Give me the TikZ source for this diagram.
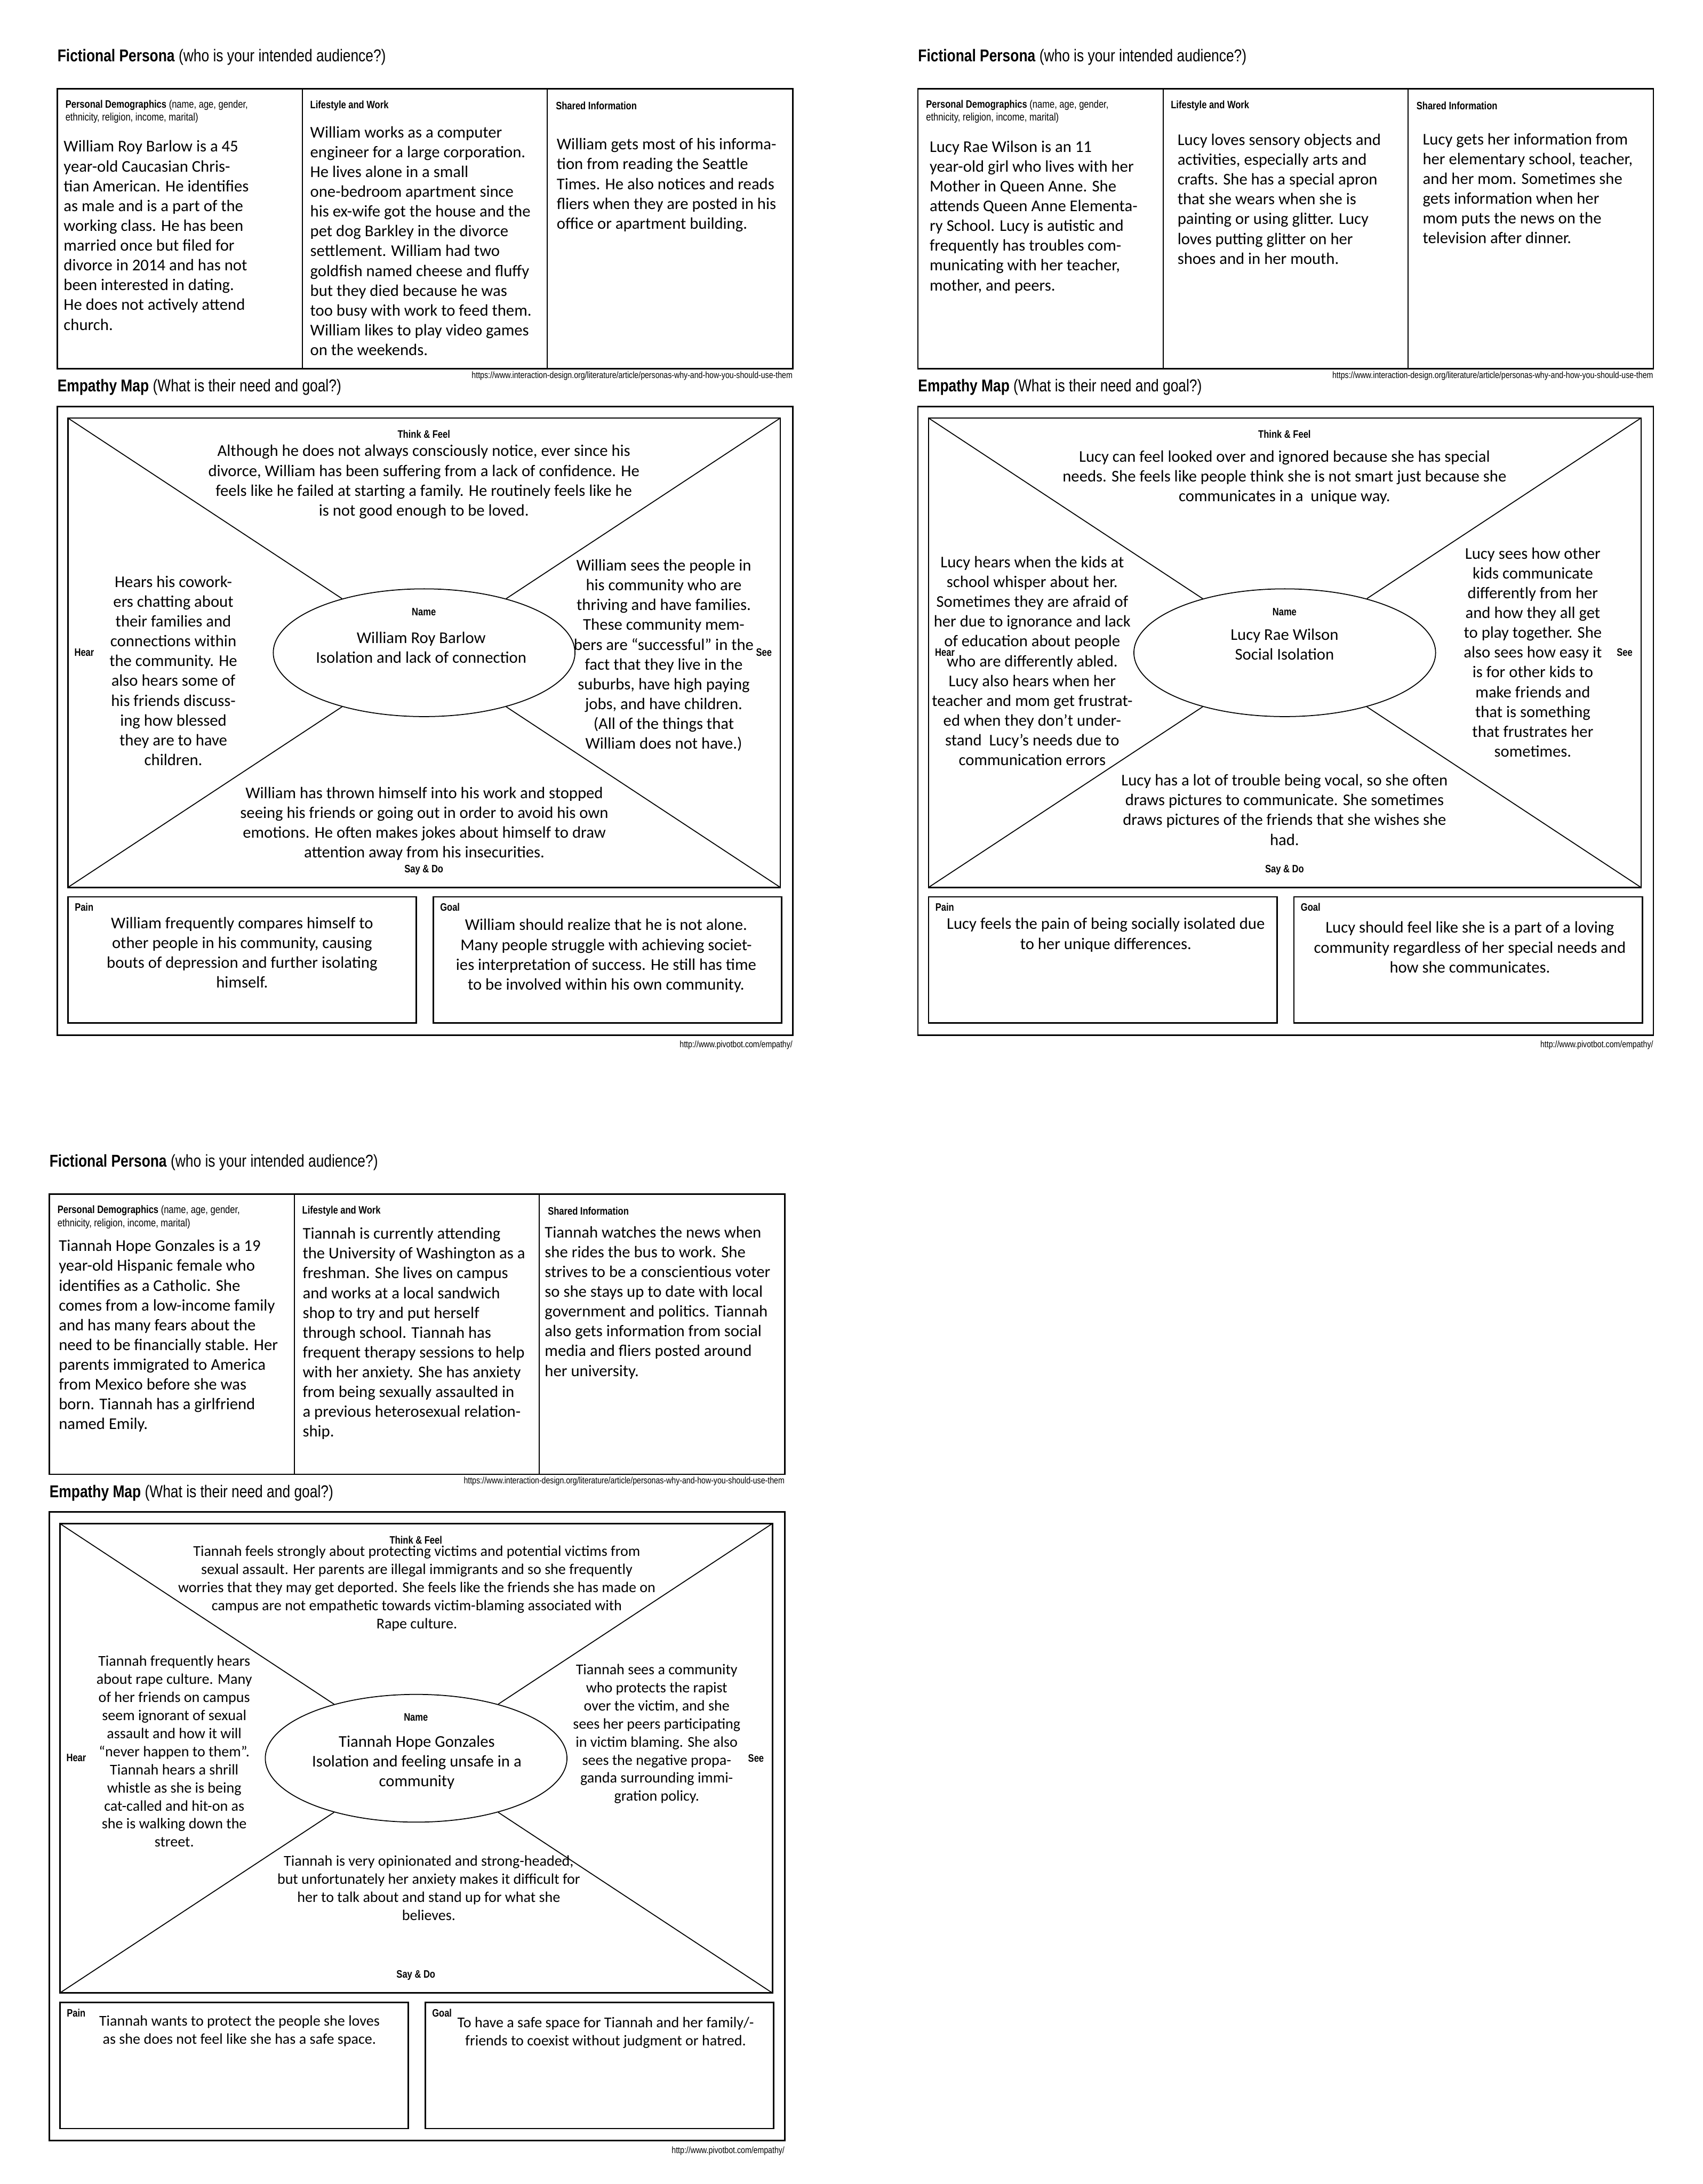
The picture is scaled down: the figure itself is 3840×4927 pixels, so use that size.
\documentclass[tikz,border=0pt]{standalone}
\usepackage{fontspec}
\setmainfont{Carlito}
\newfontfamily\condfont[FakeStretch=0.82]{Liberation Sans}
\usetikzlibrary{shapes.geometric}

\begin{document}
\begin{tikzpicture}[x=0.01cm,y=-0.01cm,
	txt/.style={inner sep=0pt,align=center,font=\fontsize{10.5}{12.7}\selectfont},
	txtsm/.style={inner sep=0pt,align=center,font=\fontsize{9.6}{11.6}\selectfont},
	col/.style={inner sep=0pt,align=left,anchor=west,font=\fontsize{10.5}{12.7}\selectfont},
	hdr/.style={inner sep=0pt,font=\condfont\fontsize{6.9}{8.3}\selectfont},
	ttl/.style={inner sep=0pt,anchor=west,font=\condfont\fontsize{11}{13}\selectfont},
	src/.style={inner sep=0pt,anchor=east,font=\condfont\fontsize{5.9}{7}\selectfont},
	boxline/.style={line width=0.9pt},
	divline/.style={line width=0.7pt},
	diag/.style={line width=0.6pt}]
	\fill[white] (0,0) rectangle (3840,4927);
	\useasboundingbox (0,0) rectangle (3840,4927);

	% first persona
	\node[ttl] (title) at (129,129) {\textbf{Fictional Persona} (who is your intended audience?)};
	\draw[boxline] (129,200) rectangle (1788,832);
	\draw[divline] (682,200) -- (682,832);
	\draw[divline] (1234,200) -- (1234,832);
	\node[hdr,anchor=west,align=left] (hdemo) at (147,252) {\textbf{Personal Demographics} (name, age, gender,\\ethnicity, religion, income, marital)};
	\node[hdr,anchor=west] (hlife) at (699,238) {\textbf{Lifestyle and Work}};
	\node[hdr,anchor=west] (hshare) at (1253,238) {\textbf{Shared Information}};
	\node[src] (srcA) at (1788,848) {https://www.interaction-design.org/literature/article/personas-why-and-how-you-should-use-them};
	\node[ttl] (maptitle) at (129,874) {\textbf{Empathy Map} (What is their need and goal?)};
	\draw[boxline] (129,917) rectangle (1788,2335);
	\draw[boxline] (153,943) rectangle (1760,2002);
	\coordinate (nw) at (153,943);
	\coordinate (ne) at (1760,943);
	\coordinate (sw) at (153,2002);
	\coordinate (se) at (1760,2002);
	\node[ellipse,draw,diag,minimum width=6.8cm,minimum height=2.88cm,inner sep=0pt] (nm) at (956.5,1472.5) {};
	\draw[diag] (nw) -- (nm);
	\draw[diag] (ne) -- (nm);
	\draw[diag] (sw) -- (nm);
	\draw[diag] (se) -- (nm);
	\node[hdr] (think) at (956,980) {\textbf{Think \& Feel}};
	\node[hdr] (hear) at (190,1472) {\textbf{Hear}};
	\node[hdr] (see) at (1723,1472) {\textbf{See}};
	\node[hdr] (say) at (956,1962) {\textbf{Say \& Do}};
	\node[hdr] (name) at (956,1380) {\textbf{Name}};
	\draw[boxline] (153,2023) rectangle (939,2308);
	\draw[boxline] (977,2023) rectangle (1763,2308);
	\node[hdr,anchor=west] (pain) at (168,2047) {\textbf{Pain}};
	\node[hdr,anchor=west] (goal) at (992,2047) {\textbf{Goal}};
	\node[src] (srcB) at (1788,2358) {http://www.pivotbot.com/empathy/};

	\node[col] (wdemo) at (143,531) {William Roy Barlow is a 45\\year-old Caucasian Chris-\\tian American. He identifies\\as male and is a part of the\\working class. He has been\\married once but filed for\\divorce in 2014 and has not\\been interested in dating.\\He does not actively attend\\church.};
	\node[col] (wlife) at (699,543.5) {William works as a computer\\engineer for a large corporation.\\He lives alone in a small\\one-bedroom apartment since\\his ex-wife got the house and the\\pet dog Barkley in the divorce\\settlement. William had two\\goldfish named cheese and fluffy\\but they died because he was\\too busy with work to feed them.\\William likes to play video games\\on the weekends.};
	\node[col] (wshare) at (1255,417.5) {William gets most of his informa-\\tion from reading the Seattle\\Times. He also notices and reads\\fliers when they are posted in his\\office or apartment building.};
	\node[txt] (wthink) at (956,1087) {Although he does not always consciously notice, ever since his\\divorce, William has been suffering from a lack of confidence. He\\feels like he failed at starting a family. He routinely feels like he\\is not good enough to be loved.};
	\node[txt] (whear) at (391,1513) {Hears his cowork-\\ers chatting about\\their families and\\connections within\\the community. He\\also hears some of\\his friends discuss-\\ing how blessed\\they are to have\\children.};
	\node[txt] (wsee) at (1497,1478.5) {William sees the people in\\his community who are\\thriving and have families.\\These community mem-\\bers are “successful” in the\\fact that they live in the\\suburbs, have high paying\\jobs, and have children.\\(All of the things that\\William does not have.)};
	\node[txt] (wsay) at (957,1858.5) {William has thrown himself into his work and stopped\\seeing his friends or going out in order to avoid his own\\emotions. He often makes jokes about himself to draw\\attention away from his insecurities.};
	\node[txt] (wname) at (950,1460.5) {William Roy Barlow\\Isolation and lack of connection};
	\node[txt] (wpain) at (546,2149) {William frequently compares himself to\\other people in his community, causing\\bouts of depression and further isolating\\himself.};
	\node[txt] (wgoal) at (1367,2156) {William should realize that he is not alone.\\Many people struggle with achieving societ-\\ies interpretation of success. He still has time\\to be involved within his own community.};

	% second persona
	\begin{scope}[shift={(1941,0)}]
		\node[ttl] (title) at (129,129) {\textbf{Fictional Persona} (who is your intended audience?)};
		\draw[boxline] (129,200) rectangle (1788,832);
		\draw[divline] (682,200) -- (682,832);
		\draw[divline] (1234,200) -- (1234,832);
		\node[hdr,anchor=west,align=left] (hdemo) at (147,252) {\textbf{Personal Demographics} (name, age, gender,\\ethnicity, religion, income, marital)};
		\node[hdr,anchor=west] (hlife) at (699,238) {\textbf{Lifestyle and Work}};
		\node[hdr,anchor=west] (hshare) at (1253,238) {\textbf{Shared Information}};
		\node[src] (srcA) at (1788,848) {https://www.interaction-design.org/literature/article/personas-why-and-how-you-should-use-them};
		\node[ttl] (maptitle) at (129,874) {\textbf{Empathy Map} (What is their need and goal?)};
		\draw[boxline] (129,917) rectangle (1788,2335);
		\draw[boxline] (153,943) rectangle (1760,2002);
		\coordinate (nw) at (153,943);
		\coordinate (ne) at (1760,943);
		\coordinate (sw) at (153,2002);
		\coordinate (se) at (1760,2002);
		\node[ellipse,draw,diag,minimum width=6.8cm,minimum height=2.88cm,inner sep=0pt] (nm) at (956.5,1472.5) {};
		\draw[diag] (nw) -- (nm);
		\draw[diag] (ne) -- (nm);
		\draw[diag] (sw) -- (nm);
		\draw[diag] (se) -- (nm);
		\node[hdr] (think) at (956,980) {\textbf{Think \& Feel}};
		\node[hdr] (hear) at (190,1472) {\textbf{Hear}};
		\node[hdr] (see) at (1723,1472) {\textbf{See}};
		\node[hdr] (say) at (956,1962) {\textbf{Say \& Do}};
		\node[hdr] (name) at (956,1380) {\textbf{Name}};
		\draw[boxline] (153,2023) rectangle (939,2308);
		\draw[boxline] (977,2023) rectangle (1763,2308);
		\node[hdr,anchor=west] (pain) at (168,2047) {\textbf{Pain}};
		\node[hdr,anchor=west] (goal) at (992,2047) {\textbf{Goal}};
		\node[src] (srcB) at (1788,2358) {http://www.pivotbot.com/empathy/};

		\node[col] (ldemo) at (155,489.5) {Lucy Rae Wilson is an 11\\year-old girl who lives with her\\Mother in Queen Anne. She\\attends Queen Anne Elementa-\\ry School. Lucy is autistic and\\frequently has troubles com-\\municating with her teacher,\\mother, and peers.};
		\node[col] (llife) at (714,449) {Lucy loves sensory objects and\\activities, especially arts and\\crafts. She has a special apron\\that she wears when she is\\painting or using glitter. Lucy\\loves putting glitter on her\\shoes and in her mouth.};
		\node[col] (lshare) at (1267,425) {Lucy gets her information from\\her elementary school, teacher,\\and her mom. Sometimes she\\gets information when her\\mom puts the news on the\\television after dinner.};
		\node[txt] (lthink) at (956,1077) {Lucy can feel looked over and ignored because she has special\\needs. She feels like people think she is not smart just because she\\communicates in a\ \ unique way.};
		\node[txt] (lhear) at (387,1491) {Lucy hears when the kids at\\school whisper about her.\\Sometimes they are afraid of\\her due to ignorance and lack\\of education about people\\who are differently abled.\\Lucy also hears when her\\teacher and mom get frustrat-\\ed when they don’t under-\\stand\ \ Lucy’s needs due to\\communication errors};
		\node[txt] (lsee) at (1516,1471.5) {Lucy sees how other\\kids communicate\\differently from her\\and how they all get\\to play together. She\\also sees how easy it\\is for other kids to\\make friends and\\that is something\\that frustrates her\\sometimes.};
		\node[txt] (lsay) at (956,1827) {Lucy has a lot of trouble being vocal, so she often\\draws pictures to communicate. She sometimes\\draws pictures of the friends that she wishes she\\had.};
		\node[txt] (lname) at (956,1453.5) {Lucy Rae Wilson\\Social Isolation};
		\node[txt] (lpain) at (553,2109) {Lucy feels the pain of being socially isolated due\\to her unique differences.};
		\node[txt] (lgoal) at (1374,2137) {Lucy should feel like she is a part of a loving\\community regardless of her special needs and\\how she communicates.};
	\end{scope}

	% third persona
	\begin{scope}[shift={(-18,2494)}]
		\node[ttl] (title) at (129,129) {\textbf{Fictional Persona} (who is your intended audience?)};
		\draw[boxline] (129,200) rectangle (1788,832);
		\draw[divline] (682,200) -- (682,832);
		\draw[divline] (1234,200) -- (1234,832);
		\node[hdr,anchor=west,align=left] (hdemo) at (147,252) {\textbf{Personal Demographics} (name, age, gender,\\ethnicity, religion, income, marital)};
		\node[hdr,anchor=west] (hlife) at (699,238) {\textbf{Lifestyle and Work}};
		\node[hdr,anchor=west] (hshare) at (1253,238) {\textbf{Shared Information}};
		\node[src] (srcA) at (1788,848) {https://www.interaction-design.org/literature/article/personas-why-and-how-you-should-use-them};
		\node[ttl] (maptitle) at (129,874) {\textbf{Empathy Map} (What is their need and goal?)};
		\draw[boxline] (129,917) rectangle (1788,2335);
		\draw[boxline] (153,943) rectangle (1760,2002);
		\coordinate (nw) at (153,943);
		\coordinate (ne) at (1760,943);
		\coordinate (sw) at (153,2002);
		\coordinate (se) at (1760,2002);
		\node[ellipse,draw,diag,minimum width=6.8cm,minimum height=2.88cm,inner sep=0pt] (nm) at (956.5,1472.5) {};
		\draw[diag] (nw) -- (nm);
		\draw[diag] (ne) -- (nm);
		\draw[diag] (sw) -- (nm);
		\draw[diag] (se) -- (nm);
		\node[hdr] (think) at (956,980) {\textbf{Think \& Feel}};
		\node[hdr] (hear) at (190,1472) {\textbf{Hear}};
		\node[hdr] (see) at (1723,1472) {\textbf{See}};
		\node[hdr] (say) at (956,1962) {\textbf{Say \& Do}};
		\node[hdr] (name) at (956,1380) {\textbf{Name}};
		\draw[boxline] (153,2023) rectangle (939,2308);
		\draw[boxline] (977,2023) rectangle (1763,2308);
		\node[hdr,anchor=west] (pain) at (168,2047) {\textbf{Pain}};
		\node[hdr,anchor=west] (goal) at (992,2047) {\textbf{Goal}};
		\node[src] (srcB) at (1788,2358) {http://www.pivotbot.com/empathy/};

		\node[col] (tdemo) at (150,520) {Tiannah Hope Gonzales is a 19\\year-old Hispanic female who\\identifies as a Catholic. She\\comes from a low-income family\\and has many fears about the\\need to be financially stable. Her\\parents immigrated to America\\from Mexico before she was\\born. Tiannah has a girlfriend\\named Emily.};
		\node[col] (tlife) at (700,514.5) {Tiannah is currently attending\\the University of Washington as a\\freshman. She lives on campus\\and works at a local sandwich\\shop to try and put herself\\through school. Tiannah has\\frequent therapy sessions to help\\with her anxiety. She has anxiety\\from being sexually assaulted in\\a previous heterosexual relation-\\ship.};
		\node[col] (tshare) at (1246,444.5) {Tiannah watches the news when\\she rides the bus to work. She\\strives to be a conscientious voter\\so she stays up to date with local\\government and politics. Tiannah\\also gets information from social\\media and fliers posted around\\her university.};
		\node[txtsm] (tthink) at (958,1089.5) {Tiannah feels strongly about protecting victims and potential victims from\\sexual assault. Her parents are illegal immigrants and so she frequently\\worries that they may get deported. She feels like the friends she has made on\\campus are not empathetic towards victim-blaming associated with\\Rape culture.};
		\node[txtsm] (thear) at (411,1457) {Tiannah frequently hears\\about rape culture. Many\\of her friends on campus\\seem ignorant of sexual\\assault and how it will\\“never happen to them”.\\Tiannah hears a shrill\\whistle as she is being\\cat-called and hit-on as\\she is walking down the\\street.};
		\node[txtsm] (tsee) at (1499,1417.5) {Tiannah sees a community\\who protects the rapist\\over the victim, and she\\sees her peers participating\\in victim blaming. She also\\sees the negative propa-\\ganda surrounding immi-\\gration policy.};
		\node[txt] (tname) at (958,1481.5) {Tiannah Hope Gonzales\\Isolation and feeling unsafe in a\\community};
		\node[txtsm] (tsay) at (985,1765) {Tiannah is very opinionated and strong-headed,\\but unfortunately her anxiety makes it difficult for\\her to talk about and stand up for what she\\believes.};
		\node[txtsm] (tpain) at (558,2087.5) {Tiannah wants to protect the people she loves\\as she does not feel like she has a safe space.};
		\node[txtsm] (tgoal) at (1384,2092) {To have a safe space for Tiannah and her family/-\\friends to coexist without judgment or hatred.};
	\end{scope}
\end{tikzpicture}
\end{document}
